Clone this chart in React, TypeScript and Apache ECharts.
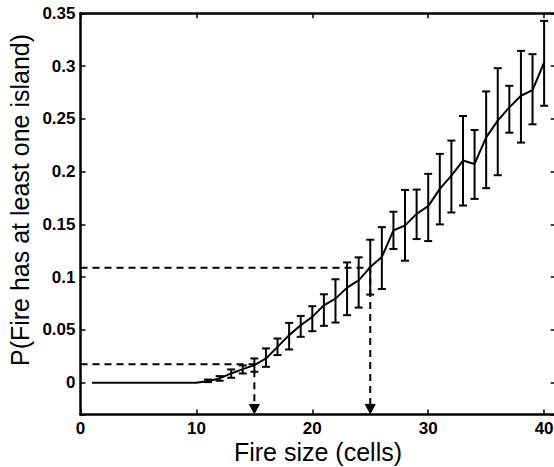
import React, { useEffect, useRef } from "react";
import * as echarts from "echarts";

// ---- data ----
const fireSizes = [
  1, 2, 3, 4, 5, 6, 7, 8, 9, 10, 11, 12, 13, 14, 15, 16, 17, 18, 19, 20,
  21, 22, 23, 24, 25, 26, 27, 28, 29, 30, 31, 32, 33, 34, 35, 36, 37, 38, 39, 40,
];
const meanP = [
  0, 0, 0, 0, 0, 0, 0, 0, 0, 0,
  0.0016, 0.0041, 0.0088, 0.0129, 0.0167, 0.023, 0.034, 0.0451, 0.0545, 0.0624,
  0.0734, 0.0797, 0.0901, 0.097, 0.1096, 0.1191, 0.1443, 0.149, 0.16, 0.1673,
  0.1837, 0.1963, 0.2105, 0.2073, 0.2325, 0.2483, 0.2609, 0.2719, 0.2773, 0.3034,
];
const lowerP = [
  0, 0, 0, 0, 0, 0, 0, 0, 0, 0,
  0.0006, 0.0019, 0.0047, 0.0088, 0.0104, 0.0151, 0.0262, 0.0315, 0.0435, 0.0488,
  0.0539, 0.057, 0.064, 0.0712, 0.0835, 0.0888, 0.1267, 0.1156, 0.1361, 0.1342,
  0.15, 0.1613, 0.1679, 0.1742, 0.1843, 0.1966, 0.2369, 0.2275, 0.2448, 0.2624,
];
const upperP = [
  0, 0, 0, 0, 0, 0, 0, 0, 0, 0,
  0.003, 0.0063, 0.0126, 0.0164, 0.023, 0.0325, 0.0419, 0.0567, 0.0633, 0.0725,
  0.0838, 0.098, 0.114, 0.1188, 0.1355, 0.1474, 0.162, 0.1827, 0.183, 0.1979,
  0.2168, 0.2294, 0.2527, 0.2394, 0.276, 0.298, 0.2813, 0.3144, 0.3113, 0.3428,
];
const guideSizes = [15, 25];
const guideProbs = [0.0176, 0.109];

const X_MIN = 0;
const X_MAX = 41;
const Y_MIN = -0.03;
const Y_MAX = 0.35;

const xLabel = "Fire size (cells)";
const yLabel = "P(Fire has at least one island)";

const FONT = "'Liberation Sans', Arial, Helvetica, sans-serif";

export default function App() {
  const ref = useRef<HTMLDivElement>(null);

  useEffect(() => {
    if (!ref.current) return;
    const chart = echarts.init(ref.current, null, { renderer: "svg" });

    const axisLine = { show: true, onZero: false, lineStyle: { color: "#000", width: 2.5 } };
    const axisTick = { show: true, inside: true, length: 5, lineStyle: { color: "#000", width: 1.5 } };
    const labelStyle = {
      fontFamily: FONT,
      fontWeight: "bold" as const,
      fontSize: 17,
      color: "#000",
    };

    const xBase = {
      type: "value" as const,
      min: X_MIN,
      max: X_MAX,
      splitNumber: 4,
      minInterval: 10,
      maxInterval: 10,
      axisLine,
      axisTick,
      splitLine: { show: false },
    };
    const yBase = {
      type: "value" as const,
      min: Y_MIN,
      max: Y_MAX,
      splitNumber: 8,
      minInterval: 0.05,
      maxInterval: 0.05,
      axisLine,
      axisTick,
      splitLine: { show: false },
    };

    const option: any = {
      animation: false,
      grid: {
        left: 80.5,
        top: 13.3,
        right: -1.7,
        bottom: 52.6,
        containLabel: false,
        outerBoundsMode: "none",
      },
      xAxis: [
        {
          ...xBase,
          position: "bottom",
          axisLabel: {
            ...labelStyle,
            margin: 6,
            lineHeight: 17,
            formatter: (v: number) => (Math.abs(v % 10) < 1e-9 ? String(v) : ""),
          },
        },
        { ...xBase, position: "top", axisLabel: { show: false } },
      ],
      yAxis: [
        {
          ...yBase,
          position: "left",
          axisLabel: {
            ...labelStyle,
            margin: 5,
            formatter: (v: number) => (v < -1e-6 ? "" : String(+v.toFixed(2))),
          },
        },
        { ...yBase, position: "right", axisLabel: { show: false } },
      ],
      graphic: [
        {
          type: "text",
          x: 318,
          y: 452,
          style: {
            text: xLabel,
            fontFamily: FONT,
            fontSize: 25,
            lineHeight: 25,
            fill: "#000",
            align: "center",
            verticalAlign: "middle",
          },
        },
        {
          type: "text",
          x: 20,
          y: 200,
          rotation: Math.PI / 2,
          style: {
            text: yLabel,
            fontFamily: FONT,
            fontSize: 25,
            fill: "#000",
            align: "center",
            verticalAlign: "middle",
          },
        },
      ],
      series: [
        {
          type: "custom",
          name: "guides",
          clip: false,
          silent: true,
          data: guideSizes.map((s, i) => [s, guideProbs[i]]),
          encode: { x: 0, y: 1 },
          renderItem: (_params: any, api: any) => {
            const s = api.value(0);
            const p = api.value(1);
            const start = api.coord([X_MIN, p]);
            const corner = api.coord([s, p]);
            const base = api.coord([s, Y_MIN]);
            const ah = 10;
            const aw = 5;
            return {
              type: "group",
              children: [
                {
                  type: "polyline",
                  shape: { points: [start, corner, [base[0], base[1] - ah]] },
                  style: { stroke: "#000", lineWidth: 2, lineDash: [7, 5], fill: null },
                },
                {
                  type: "polygon",
                  shape: {
                    points: [
                      [base[0] - aw, base[1] - ah],
                      [base[0] + aw, base[1] - ah],
                      [base[0], base[1] - 1],
                    ],
                  },
                  style: { fill: "#000", stroke: "#000", lineWidth: 1 },
                },
              ],
            };
          },
        },
        {
          type: "custom",
          name: "errorbars",
          silent: true,
          data: fireSizes.map((s, i) => [s, lowerP[i], upperP[i]]),
          encode: { x: 0, y: [1, 2] },
          renderItem: (_params: any, api: any) => {
            const x = api.value(0);
            const lo = api.value(1);
            const hi = api.value(2);
            if (hi - lo < 1e-9) return null;
            const top = api.coord([x, hi]);
            const bot = api.coord([x, lo]);
            const hw = 4;
            const st = { stroke: "#000", lineWidth: 2 };
            return {
              type: "group",
              children: [
                { type: "line", shape: { x1: top[0], y1: top[1], x2: bot[0], y2: bot[1] }, style: st },
                { type: "line", shape: { x1: top[0] - hw, y1: top[1], x2: top[0] + hw, y2: top[1] }, style: st },
                { type: "line", shape: { x1: bot[0] - hw, y1: bot[1], x2: bot[0] + hw, y2: bot[1] }, style: st },
              ],
            };
          },
        },
        {
          type: "line",
          name: "mean",
          silent: true,
          symbol: "none",
          data: fireSizes.map((s, i) => [s, meanP[i]]),
          lineStyle: { color: "#000", width: 2 },
          itemStyle: { color: "#000" },
        },
      ],
    };

    chart.setOption(option);
    return () => chart.dispose();
  }, []);

  return (
    <div
      ref={ref}
      style={{ position: "absolute", left: 0, top: 0, width: 554, height: 467, background: "#fff" }}
    />
  );
}
